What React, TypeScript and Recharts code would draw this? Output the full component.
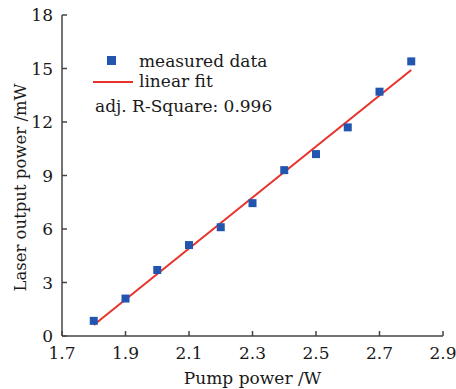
import React from 'react';
import {
  ComposedChart,
  Scatter,
  Line,
  XAxis,
  YAxis,
  Legend,
  Label,
} from 'recharts';

const pumpPower = [1.8, 1.9, 2.0, 2.1, 2.2, 2.3, 2.4, 2.5, 2.6, 2.7, 2.8];
const outputPower = [0.85, 2.1, 3.7, 5.1, 6.1, 7.45, 9.3, 10.2, 11.7, 13.7, 15.4];
const fitX = [1.8, 2.8];
const fitY = [0.62, 14.92];
const xTicks = [1.7, 1.9, 2.1, 2.3, 2.5, 2.7, 2.9];
const yTicks = [0, 3, 6, 9, 12, 15, 18];
const rSquare = '0.996';

const measured = pumpPower.map((x, i) => ({ x, y: outputPower[i] }));
const fit = fitX.map((x, i) => ({ x, y: fitY[i] }));

const FONT = '"DejaVu Serif", serif';
const TEXT = '#1a1a1a';
const AXIS = '#444';
const BLUE = '#2155b0';
const RED = '#e8322a';

const LegendBox = () => (
  <div style={{ position: 'relative', height: 0, width: 0, fontFamily: FONT, fontSize: 17, color: TEXT, lineHeight: '20px', whiteSpace: 'nowrap' }}>
    <div style={{ position: 'absolute', left: 107, top: 56, width: 9, height: 9, background: BLUE }} />
    <div style={{ position: 'absolute', left: 139, top: 51 }}>measured data</div>
    <div style={{ position: 'absolute', left: 93, top: 81, width: 40, height: 2, background: RED }} />
    <div style={{ position: 'absolute', left: 139, top: 71 }}>linear fit</div>
    <div style={{ position: 'absolute', left: 95, top: 96 }}>adj. R-Square: {rSquare}</div>
  </div>
);

const YLabel = (props: any) => {
  const vb = props.viewBox || { x: 0, y: 0, width: 0, height: 0 };
  const cx = vb.x + 20;
  const cy = vb.y + vb.height / 2 + 12;
  return (
    <text
      x={cx}
      y={cy}
      transform={`rotate(-90 ${cx} ${cy})`}
      textAnchor="middle"
      dominantBaseline="central"
      fontFamily={FONT}
      fontSize={16.5}
      fill={TEXT}
    >
      Laser output power /mW
    </text>
  );
};

export default function App() {
  const tickStyle = { fontFamily: FONT, fontSize: 17, fill: TEXT };
  return (
    <div style={{ position: 'absolute', left: 0, top: 0, width: 456, height: 389, background: '#fff' }}>
      <ComposedChart width={456} height={389} margin={{ top: 15, right: 13, left: 0, bottom: 0 }}>
        <XAxis
          type="number"
          dataKey="x"
          domain={[1.7, 2.9]}
          ticks={xTicks}
          tickFormatter={(v: number) => v.toFixed(1)}
          height={53}
          tick={tickStyle}
          tickSize={-5}
          tickMargin={16}
          axisLine={{ stroke: AXIS, strokeWidth: 1.5 }}
          tickLine={{ stroke: AXIS, strokeWidth: 1.5 }}
          allowDataOverflow
        >
          <Label value="Pump power /W" position="insideBottom" offset={5} style={{ fontFamily: FONT, fontSize: 17, fill: TEXT }} />
        </XAxis>
        <XAxis
          xAxisId="top"
          orientation="top"
          type="number"
          domain={[1.7, 2.9]}
          height={0}
          tick={false}
          tickLine={false}
          axisLine={{ stroke: AXIS, strokeWidth: 1.5 }}
        />
        <YAxis
          type="number"
          domain={[0, 18]}
          ticks={yTicks}
          width={62}
          tick={tickStyle}
          tickSize={-5}
          tickMargin={14}
          axisLine={{ stroke: AXIS, strokeWidth: 1.5 }}
          tickLine={{ stroke: AXIS, strokeWidth: 1.5 }}
          allowDataOverflow
        >
          <Label content={<YLabel />} />
        </YAxis>
        <YAxis
          yAxisId="right"
          orientation="right"
          type="number"
          domain={[0, 18]}
          width={0}
          tick={false}
          tickLine={false}
          axisLine={{ stroke: AXIS, strokeWidth: 1.5 }}
        />
        <Legend content={<LegendBox />} wrapperStyle={{ left: 0, top: 0, width: 0, height: 0 }} />
        <Scatter data={measured} dataKey="y" fill={BLUE} shape="square" legendType="square" isAnimationActive={false} />
        <Line data={fit} dataKey="y" stroke={RED} strokeWidth={2} dot={false} activeDot={false} isAnimationActive={false} />
      </ComposedChart>
    </div>
  );
}
